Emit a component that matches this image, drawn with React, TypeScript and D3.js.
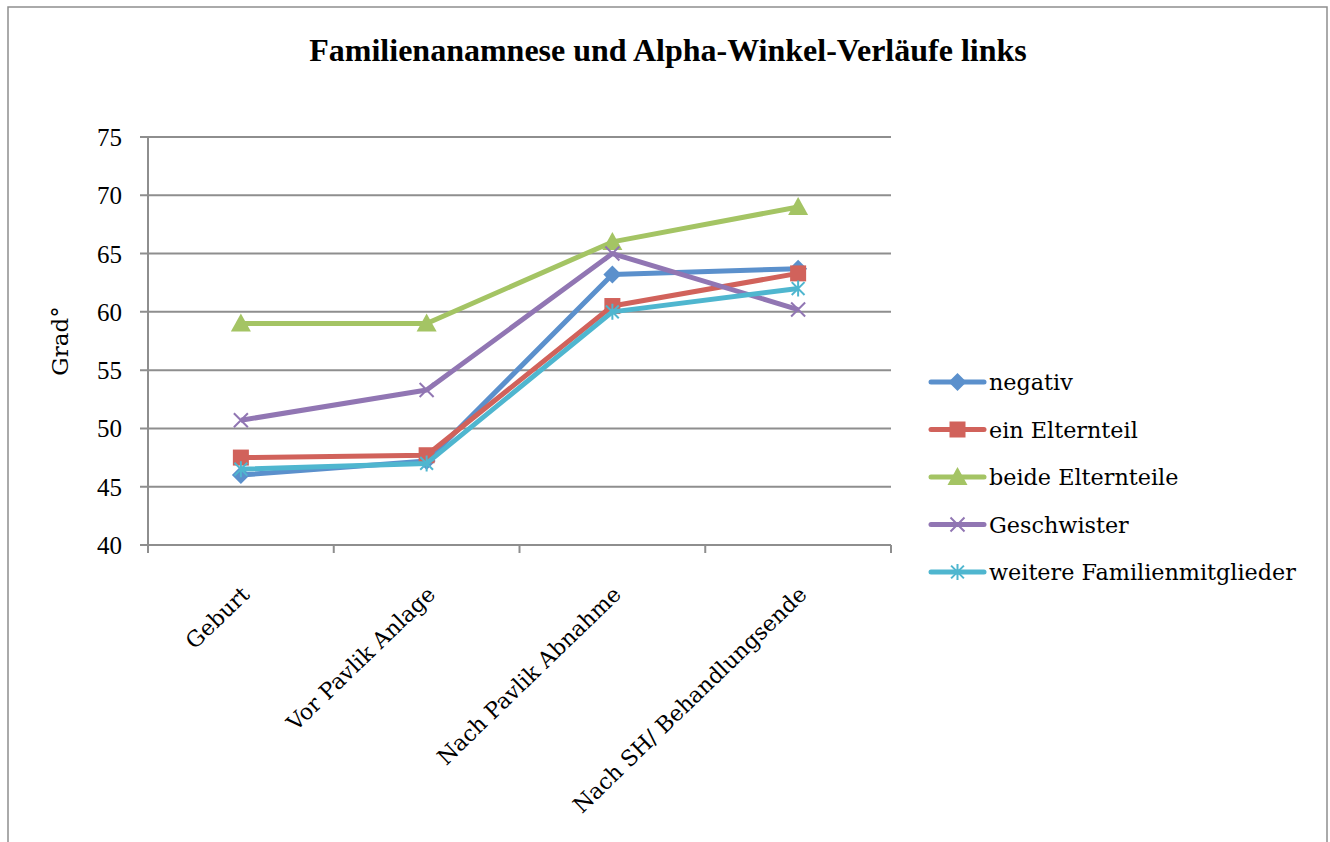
import React from "react";
import * as d3 from "d3";

const categories = ["Geburt", "Vor Pavlik Anlage", "Nach Pavlik Abnahme", "Nach SH/ Behandlungsende"];
const negativ = [46.0, 47.2, 63.2, 63.7];
const einElternteil = [47.5, 47.7, 60.5, 63.3];
const beideElternteile = [59.0, 59.0, 66.0, 69.0];
const geschwister = [50.7, 53.3, 65.0, 60.2];
const weitere = [46.5, 47.0, 60.0, 62.0];
const yTicks = [40, 45, 50, 55, 60, 65, 70, 75];

const series = [
  { name: "negativ", values: negativ, color: "#5B90CC", marker: "diamond" },
  { name: "ein Elternteil", values: einElternteil, color: "#D1625B", marker: "square" },
  { name: "beide Elternteile", values: beideElternteile, color: "#A4C464", marker: "triangle" },
  { name: "Geschwister", values: geschwister, color: "#9176B3", marker: "x" },
  { name: "weitere Familienmitglieder", values: weitere, color: "#4FB6CF", marker: "star" },
];

const plot = { left: 148, right: 891, top: 137, bottom: 545 };
const grid = "#8e8e8e";
const serif = "'Liberation Serif', 'Times New Roman', serif";
const labelFont = "'DejaVu Serif', serif";

function Marker({ type, x, y, color }: { type: string; x: number; y: number; color: string }) {
  if (type === "diamond") {
    const r = 9;
    return <path d={`M${x},${y - r}L${x + r},${y}L${x},${y + r}L${x - r},${y}Z`} fill={color} />;
  }
  if (type === "square") {
    const r = 8;
    return <rect x={x - r} y={y - r} width={2 * r} height={2 * r} fill={color} />;
  }
  if (type === "triangle") {
    const r = 10;
    return <path d={`M${x},${y - r}L${x + r},${y + r * 0.8}L${x - r},${y + r * 0.8}Z`} fill={color} />;
  }
  if (type === "x") {
    const r = 7;
    return (
      <path d={`M${x - r},${y - r}L${x + r},${y + r}M${x - r},${y + r}L${x + r},${y - r}`} stroke={color} strokeWidth={2} />
    );
  }
  const r = 8;
  return (
    <path
      d={`M${x - r * 0.8},${y - r * 0.8}L${x + r * 0.8},${y + r * 0.8}M${x - r * 0.8},${y + r * 0.8}L${x + r * 0.8},${y - r * 0.8}M${x},${y - r}L${x},${y + r}`}
      stroke={color}
      strokeWidth={2}
    />
  );
}

export default function App() {
  const x = d3.scalePoint<string>().domain(categories).range([plot.left, plot.right]).padding(0.5);
  const y = d3.scaleLinear().domain([40, 75]).range([plot.bottom, plot.top]);
  const step = x.step();
  const bounds = d3.range(categories.length + 1).map((i) => plot.left + i * step);
  const line = d3
    .line<number>()
    .x((_, i) => x(categories[i])!)
    .y((d) => y(d));

  return (
    <svg width={1330} height={842} style={{ position: "absolute", left: 0, top: 0, background: "#fff" }}>
      <rect x={8} y={7} width={1319} height={850} fill="#fff" stroke={grid} strokeWidth={1.5} />
      <text x={668} y={61} textAnchor="middle" fontFamily={serif} fontWeight="bold" fontSize={32}>
        Familienanamnese und Alpha-Winkel-Verläufe links
      </text>

      {/* gridlines + y axis */}
      {yTicks.map((t) => (
        <g key={t}>
          <line x1={plot.left - 8} x2={plot.right} y1={y(t)} y2={y(t)} stroke={grid} strokeWidth={2} />
          <text x={122} y={y(t) + 9} textAnchor="end" fontFamily={serif} fontSize={25}>
            {t}
          </text>
        </g>
      ))}
      <line x1={plot.left} x2={plot.left} y1={plot.top} y2={plot.bottom} stroke={grid} strokeWidth={2} />
      {bounds.map((b, i) => (
        <line key={i} x1={b} x2={b} y1={plot.bottom} y2={plot.bottom + 8} stroke={grid} strokeWidth={2} />
      ))}
      <text transform={`translate(68,${(plot.top + plot.bottom) / 2}) rotate(-90)`} textAnchor="middle" fontFamily={labelFont} fontSize={23}>
        Grad°
      </text>

      {categories.map((c) => (
        <text
          key={c}
          transform={`translate(${x(c)! + 10},${plot.bottom + 51}) rotate(-44)`}
          textAnchor="end"
          fontFamily={labelFont}
          fontSize={22}
        >
          {c}
        </text>
      ))}

      {series.map((s) => (
        <g key={s.name}>
          <path d={line(s.values)!} fill="none" stroke={s.color} strokeWidth={5} strokeLinejoin="round" />
          {s.values.map((v, i) => (
            <Marker key={i} type={s.marker} x={x(categories[i])!} y={y(v)} color={s.color} />
          ))}
        </g>
      ))}

      {series.map((s, i) => {
        const ly = 382 + i * 47.5;
        return (
          <g key={s.name}>
            <line x1={931} x2={984} y1={ly} y2={ly} stroke={s.color} strokeWidth={5} strokeLinecap="round" />
            <Marker type={s.marker} x={957.5} y={ly} color={s.color} />
            <text x={989} y={ly + 8} fontFamily={labelFont} fontSize={22.3}>
              {s.name}
            </text>
          </g>
        );
      })}
    </svg>
  );
}
